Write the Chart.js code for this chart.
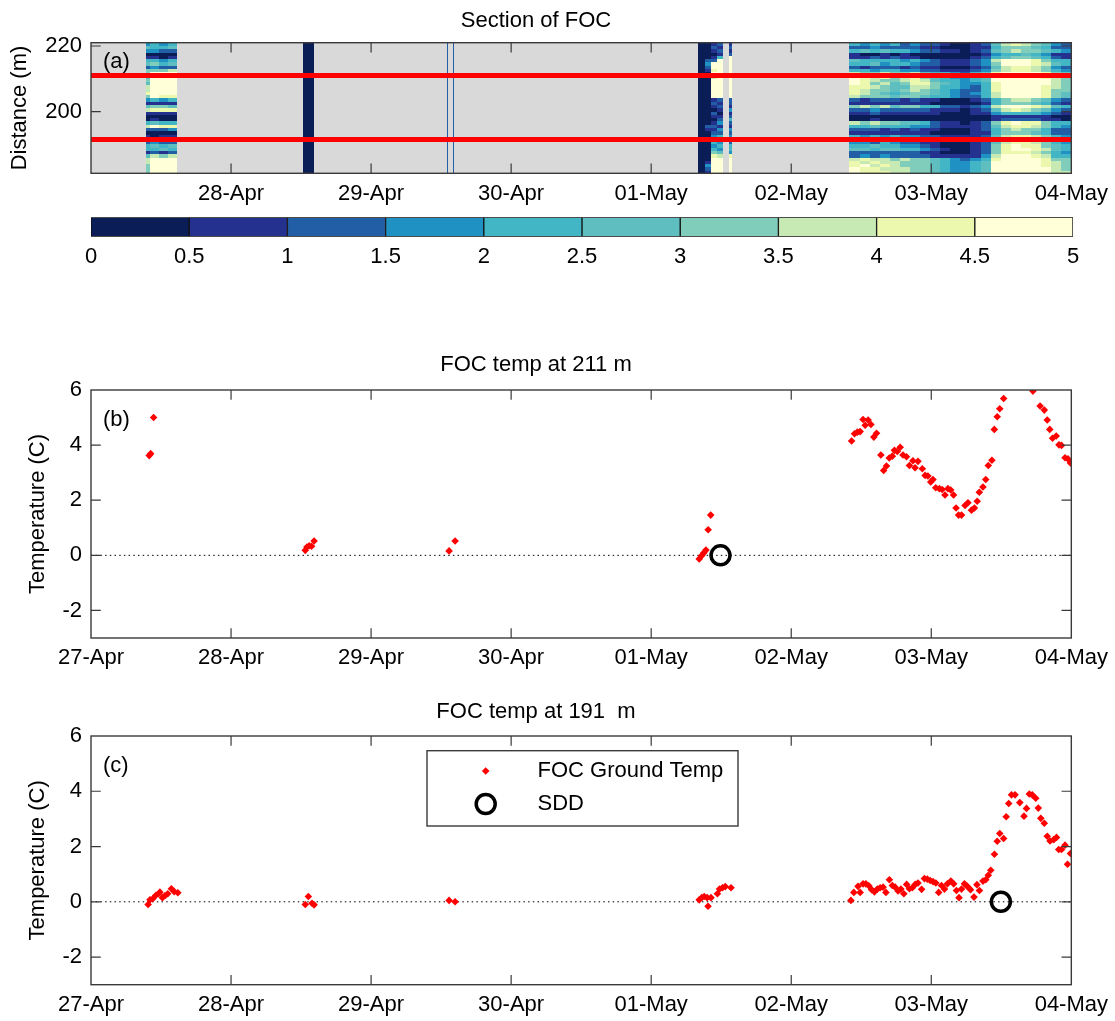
<!DOCTYPE html>
<html><head><meta charset="utf-8">
<script src="https://cdn.jsdelivr.net/npm/chart.js@4.4.1/dist/chart.umd.min.js"></script>
<style>
html,body{margin:0;padding:0;background:#fff;}
body{width:1115px;height:1021px;position:relative;overflow:hidden;}
canvas{position:absolute;left:0;}
</style></head><body>
<canvas id="cA" width="1115" height="212" style="top:0px"></canvas>
<canvas id="cCB" width="1115" height="108" style="top:212px"></canvas>
<canvas id="cB" width="1115" height="370" style="top:320px"></canvas>
<canvas id="cC" width="1115" height="331" style="top:690px"></canvas>
<script>
// ---------------- DATA ----------------
const dayLabels = ['27-Apr','28-Apr','29-Apr','30-Apr','01-May','02-May','03-May','04-May'];
const dayTicks = [0,1,2,3,4,5,6,7];
const dayTicksA = [1,2,3,4,5,6,7];
const distTicks = [200,220];
const tempTicks = [-2,0,2,4,6];
const colorEdges = [0,0.5,1,1.5,2,2.5,3,3.5,4,4.5,5];
const colorClasses = ['#0a1d56','#25318f','#225ea6','#1f91c2','#42b6c5','#5fbfc0','#80cdbc','#c7e9b4','#ecf8ae','#ffffd8'];
const redLineDist = [211, 191.5];

// distance rows (cell centres, 1 m tall), top to bottom
const distRows = [220.5,219.5,218.5,217.5,216.5,215.5,214.5,213.5,212.5,211.5,
  210.5,209.5,208.5,207.5,206.5,205.5,204.5,203.5,202.5,201.5,
  200.5,199.5,198.5,197.5,196.5,195.5,194.5,193.5,192.5,191.5,
  190.5,189.5,188.5,187.5,186.5,185.5,184.5,183.5,182.5,181.5];

// block A (27-Apr), column edges in days since 27-Apr 00:00, rows x columns
const blockAEdges = [0.395,0.42,0.485,0.55,0.614];
const blockARows = [
 [1.8,2.0,1.6,2.2],[2.6,2.4,2.2,2.6],[1.6,1.8,1.4,1.2],[0.2,0.3,0.2,0.4],[0.6,0.8,0.4,0.7],
 [2.0,2.4,1.8,2.2],[2.6,3.0,2.4,2.8],[1.4,1.6,1.2,1.4],[3.0,3.4,3.2,3.6],[3.2,4.6,4.6,4.8],
 [2.8,4.9,4.9,4.9],[3.4,4.9,4.9,4.9],[2.6,4.8,4.9,4.9],[3.6,4.9,4.9,4.8],[3.8,4.9,4.9,4.9],
 [4.2,4.9,4.8,4.9],[3.0,4.6,4.4,4.2],[1.8,2.2,1.6,2.0],[0.8,0.6,0.9,0.7],[2.6,3.4,3.0,2.8],
 [3.6,4.4,4.0,4.2],[0.6,0.8,0.5,0.9],[0.1,0.2,0.1,0.2],[0.3,0.6,0.4,0.3],[2.2,2.6,2.0,2.4],
 [3.8,4.6,4.2,4.4],[1.0,1.4,1.2,1.6],[0.2,0.4,0.3,0.2],[0.6,0.4,0.8,0.5],[1.6,1.8,1.4,1.6],
 [1.2,1.6,1.0,1.4],[2.2,2.6,2.4,2.8],[2.4,2.0,2.6,2.2],[0.8,1.0,0.7,1.2],[2.8,3.6,3.2,3.8],
 [3.6,4.9,4.8,4.9],[3.8,4.9,4.9,4.9],[3.4,4.9,4.9,4.9],[3.2,4.9,4.9,4.9],[3.0,4.9,4.9,4.9]
];
// block B (28-Apr), one column
const blockBEdges = [1.517,1.590];
const blockBCol = [0.1,0.1,0.1,0.1,0.1,0.1,0.1,0.1,0.1,0.1,0.1,0.1,0.1,0.1,0.1,0.1,0.1,0.1,0.1,0.1,
  0.1,0.1,0.1,0.1,0.1,0.1,0.1,0.1,0.1,0.1,0.1,0.1,0.1,0.1,0.1,0.1,0.1,0.1,0.1,0.1];
// block C (29-Apr), two thin columns
const blockC1Edges = [2.541,2.552];
const blockC2Edges = [2.583,2.594];
const blockCCol = [1.2,1.2,1.2,1.2,1.2,1.2,1.2,1.2,1.2,1.2,1.2,1.2,1.2,1.2,1.2,1.2,1.2,1.2,1.2,1.2,
  1.2,1.2,1.2,1.2,1.2,1.2,1.2,1.2,1.2,1.2,1.2,1.2,1.2,1.2,1.2,1.2,1.2,1.2,1.2,1.2];
// block D (01-May), columns
const blockDEdges = [4.334,4.382,4.429,4.470,4.510];
const blockD1 = [0.1,0.1,0.1,0.1,0.1,0.1,0.1,0.1,0.1,0.1,0.1,0.1,0.1,0.1,0.1,0.1,0.1,0.1,0.1,0.1,
  0.1,0.1,0.1,0.1,0.1,0.1,0.1,0.1,0.1,0.1,0.1,0.1,0.1,0.1,0.1,0.1,0.1,0.1,0.1,0.1];
const blockD2 = [0.2,0.2,0.3,0.1,0.2,1.2,1.8,1.4,0.8,0.2,0.2,0.1,0.1,0.1,0.1,0.1,0.1,0.3,0.2,0.1,
  0.1,0.1,0.1,0.1,0.4,1.0,0.6,0.1,0.1,0.1,0.2,0.1,0.1,0.2,0.1,0.3,0.8,1.6,1.2,0.9];
const blockD3 = [0.8,1.0,0.6,0.4,0.5,1.4,4.6,4.6,4.4,4.8,3.8,4.8,4.8,4.8,4.8,4.8,4.8,0.8,1.2,0.6,
  0.4,1.0,0.9,0.3,0.5,1.2,0.7,1.4,1.6,1.8,2.0,1.6,2.2,3.0,4.0,4.6,4.8,4.9,4.9,4.9];
const blockD4 = [1.2,0.8,1.0,0.6,2.4,4.6,4.8,4.9,4.9,4.9,4.9,4.9,4.9,4.9,4.9,4.9,4.9,1.0,0.6,1.4,
  0.8,0.3,0.6,1.2,1.8,0.9,1.6,1.2,2.0,1.4,1.8,2.2,1.6,2.6,3.6,4.6,4.9,4.9,4.9,4.9];
const blockD5Edges = [4.555,4.576];
const blockD5 = [0.6,1.0,0.8,1.2,4.9,4.9,4.9,4.9,4.9,4.9,4.9,4.9,4.9,4.9,4.9,4.9,4.9,1.4,1.0,0.8,
  1.6,0.6,1.2,2.0,1.4,0.9,1.8,1.2,1.6,2.2,1.4,2.0,2.4,1.8,4.4,4.9,4.9,4.9,4.9,4.9];
// block E (02-May to 04-May), rows x 22 columns
const blockEEdges = [5.416,5.488,5.560,5.632,5.704,5.776,5.848,5.920,5.992,6.064,6.136,6.208,
  6.280,6.352,6.424,6.496,6.568,6.640,6.712,6.784,6.856,6.928,7.0];
const blockERows = [
 [2.2,1.8,2.4,1.6,2.0,1.4,1.8,1.2,1.0,0.6,0.4,0.3,0.8,1.2,2.6,3.6,4.2,3.8,3.0,2.6,1.6,1.2],
 [1.4,1.2,1.6,1.1,1.3,1.0,1.2,0.8,0.6,0.3,0.2,0.3,0.5,0.9,2.2,3.0,3.4,3.2,2.8,2.4,1.4,1.0],
 [2.4,2.8,2.2,2.6,2.0,2.4,1.8,1.4,1.0,0.6,0.5,0.4,0.8,1.4,2.6,3.2,3.6,3.4,3.0,2.6,2.0,1.6],
 [0.6,0.3,0.4,0.8,0.3,0.5,0.2,0.4,0.3,0.2,0.1,0.2,0.4,0.7,1.6,2.2,2.4,2.6,2.2,1.8,0.8,0.6],
 [0.8,0.9,1.2,0.6,1.0,0.8,0.6,0.4,0.3,0.2,0.2,0.3,0.6,1.0,2.0,2.6,3.0,3.2,2.8,2.2,1.0,0.8],
 [2.6,2.2,2.4,2.0,2.2,1.8,2.0,1.6,1.2,0.9,0.7,0.8,1.2,1.8,3.6,4.6,4.8,4.6,4.2,3.4,2.4,2.0],
 [2.2,2.0,2.6,1.6,2.4,2.0,1.6,1.4,1.0,0.8,0.6,0.7,1.2,1.6,3.4,4.7,4.9,4.8,4.4,3.8,2.6,2.2],
 [1.2,0.9,1.4,1.0,1.2,0.8,1.0,0.7,0.6,0.4,0.3,0.4,0.8,1.2,2.6,3.6,4.2,4.0,3.6,3.0,1.6,1.4],
 [2.0,2.4,1.8,2.2,2.0,1.6,1.8,1.4,1.2,0.9,0.8,0.9,1.4,1.8,3.0,3.8,4.2,4.0,3.6,3.2,2.2,1.8],
 [3.8,3.4,3.0,3.6,3.0,3.2,3.6,2.8,2.4,2.0,1.6,1.4,2.0,2.6,4.4,4.8,4.9,4.8,4.6,4.0,3.2,2.8],
 [4.6,4.2,3.6,4.0,3.4,3.8,4.2,3.2,2.6,2.4,1.8,1.6,2.2,2.8,4.6,4.9,4.9,4.9,4.8,4.4,3.6,3.0],
 [4.8,4.4,3.8,3.4,3.0,3.6,4.4,3.8,2.8,2.4,2.0,1.6,2.0,2.6,4.6,4.9,4.9,4.9,4.9,4.6,3.8,3.2],
 [4.6,4.0,3.4,3.6,2.8,3.2,4.2,4.0,3.2,2.6,2.2,1.8,1.6,2.2,4.4,4.9,4.9,4.9,4.8,4.6,3.6,3.4],
 [4.4,4.2,3.6,3.2,2.6,2.8,3.8,3.8,3.0,2.4,2.0,1.6,1.4,2.2,4.2,4.8,4.9,4.9,4.9,4.4,3.8,3.2],
 [4.2,3.8,3.4,3.0,2.6,3.0,3.6,3.4,2.8,2.2,1.8,1.4,1.4,2.0,4.0,4.8,4.9,4.9,4.8,4.4,3.4,3.0],
 [4.0,3.6,3.2,2.8,2.4,2.8,3.4,3.2,2.6,2.2,1.8,1.4,1.6,2.2,3.8,4.7,4.9,4.9,4.8,4.2,3.2,2.8],
 [3.6,3.2,3.4,3.0,2.6,3.0,3.2,2.8,2.4,2.0,1.6,1.2,1.4,2.0,3.6,4.6,4.8,4.8,4.6,4.0,3.0,2.6],
 [1.2,0.9,1.4,1.0,1.2,0.8,1.0,0.8,0.6,0.4,0.3,0.3,0.6,1.0,2.4,3.4,3.8,3.6,3.2,2.6,1.6,1.2],
 [0.8,0.6,0.9,0.7,0.8,0.5,0.7,0.5,0.4,0.3,0.2,0.2,0.4,0.8,2.0,3.0,3.4,3.2,2.8,2.2,1.2,0.9],
 [3.4,3.8,3.0,3.6,2.8,3.2,3.0,2.4,2.0,1.4,1.0,0.8,1.2,1.8,3.8,4.6,4.8,4.6,4.2,3.6,2.8,2.4],
 [1.4,1.2,1.6,1.2,1.4,1.0,1.2,1.0,0.8,0.6,0.5,0.4,0.8,1.2,2.8,3.6,4.0,3.8,3.4,2.8,1.8,1.4],
 [0.9,0.7,1.0,0.8,0.9,0.7,0.8,0.6,0.5,0.4,0.3,0.3,0.5,0.8,1.6,2.2,2.4,2.2,2.0,1.6,1.0,0.8],
 [0.2,0.3,0.2,0.4,0.2,0.3,0.2,0.2,0.1,0.1,0.1,0.1,0.2,0.3,0.6,0.8,0.9,0.8,0.7,0.6,0.4,0.3],
 [0.4,0.3,0.5,0.3,0.4,0.3,0.3,0.2,0.2,0.1,0.1,0.1,0.2,0.4,0.9,1.2,1.4,1.2,1.0,0.8,0.5,0.4],
 [3.6,3.2,3.8,3.0,3.4,2.8,2.6,2.0,1.4,0.8,0.5,0.4,0.8,1.4,3.0,4.2,4.6,4.4,4.0,3.4,2.4,2.0],
 [2.4,2.2,2.8,2.0,2.4,2.0,1.8,1.6,1.2,0.8,0.6,0.5,0.9,1.4,2.8,3.8,4.2,4.0,3.6,3.0,2.2,1.8],
 [1.2,1.0,1.4,0.9,1.2,0.9,1.0,0.8,0.6,0.4,0.3,0.3,0.6,1.0,2.2,3.2,3.6,3.4,3.0,2.4,1.4,1.2],
 [0.8,0.6,0.9,0.7,0.8,0.6,0.7,0.5,0.4,0.3,0.2,0.3,0.5,0.9,2.0,3.0,3.4,3.2,2.8,2.2,1.2,1.0],
 [2.0,1.6,2.2,1.8,2.0,1.6,1.6,1.2,1.0,0.7,0.5,0.5,0.9,1.4,2.8,3.8,4.2,4.0,3.6,3.0,2.0,1.6],
 [1.8,1.4,2.0,1.6,1.8,1.4,1.4,1.0,0.8,0.5,0.4,0.4,0.8,1.2,2.6,3.6,4.0,3.8,3.4,2.8,1.8,1.4],
 [1.6,1.8,1.4,2.0,1.6,1.2,1.2,0.9,0.6,0.3,0.2,0.2,0.5,1.0,2.8,3.8,4.2,4.0,3.6,3.0,2.2,1.8],
 [2.4,2.0,2.6,2.2,2.4,1.8,1.6,1.2,0.8,0.4,0.3,0.3,0.6,1.2,3.2,4.2,4.6,4.4,4.0,3.4,2.6,2.2],
 [2.6,2.8,2.4,2.8,2.6,2.2,2.0,1.6,1.0,0.6,0.4,0.4,0.8,1.4,3.4,4.4,4.8,4.6,4.2,3.6,2.8,2.4],
 [1.2,1.0,1.4,1.0,1.2,1.0,1.0,0.8,0.6,0.4,0.3,0.3,0.6,1.2,3.0,4.0,4.4,4.2,3.8,3.2,2.0,1.6],
 [1.4,1.6,1.2,1.8,1.4,1.2,1.2,1.0,0.8,0.6,0.5,0.5,0.9,1.6,3.6,4.6,4.8,4.6,4.2,3.6,2.4,2.0],
 [3.8,4.2,3.6,3.8,3.4,3.6,3.2,3.0,2.6,2.0,1.6,1.4,1.8,2.4,4.4,4.9,4.9,4.9,4.8,4.2,3.4,3.0],
 [4.2,3.8,4.4,3.6,3.8,3.4,3.4,3.2,2.8,2.2,1.8,1.6,2.0,2.6,4.6,4.9,4.9,4.9,4.8,4.4,3.6,3.2],
 [4.4,4.6,3.8,4.2,3.6,3.4,3.2,3.0,2.6,2.0,1.6,1.6,2.0,2.6,4.6,4.9,4.9,4.9,4.8,4.4,3.6,3.4],
 [4.6,4.2,4.4,3.8,3.6,3.8,3.4,3.2,2.8,2.2,1.8,1.6,2.0,2.8,4.7,4.9,4.9,4.9,4.8,4.6,3.8,3.4],
 [4.8,4.4,4.0,4.2,3.8,3.6,3.4,3.0,2.6,2.2,1.8,1.6,2.0,2.8,4.8,4.9,4.9,4.9,4.9,4.6,3.8,3.6]
];

// FOC temperature at 211 m (days since 27-Apr 00:00, deg C)
const foc211Time = [0.416,0.426,0.447,1.530,1.542,1.558,1.575,1.593,2.557,2.600,4.343,4.361,4.376,4.391,4.407,4.425,
 5.431,5.452,5.472,5.492,5.513,5.528,5.549,5.569,5.590,5.609,5.640,5.660,5.680,5.700,5.722,5.737,5.757,5.778,5.798,5.823,
 5.844,5.869,5.884,5.905,5.936,5.956,5.976,5.996,6.012,6.032,6.058,6.078,6.098,6.119,6.139,6.159,6.177,6.195,6.216,6.241,
 6.262,6.287,6.308,6.328,6.343,6.369,6.389,6.407,6.433,6.450,6.471,6.489,6.517,6.726,6.777,6.807,6.828,6.846,6.866,6.892,
 6.912,6.930,6.955,6.976,6.994];
const foc211Temp = [3.62,3.69,5.00,0.18,0.30,0.35,0.33,0.52,0.16,0.52,-0.13,-0.01,0.09,0.19,0.93,1.46,
 4.15,4.41,4.47,4.49,4.93,4.72,4.91,4.75,4.29,4.43,3.64,3.08,3.24,3.53,3.60,3.81,3.77,3.92,3.64,3.58,
 3.26,3.43,3.18,3.41,3.14,2.90,2.88,2.66,2.75,2.45,2.42,2.39,2.19,2.42,2.37,2.19,1.72,1.46,1.46,1.81,
 1.91,1.64,1.72,1.96,2.29,2.48,2.75,3.26,3.45,4.57,5.03,5.32,5.69,5.96,5.42,5.27,4.91,4.57,4.25,4.33,
 4.01,3.99,3.54,3.50,3.35];
const sdd211Time = [4.495];
const sdd211Temp = [0];

// FOC temperature at 191 m
const foc191Time = [0.408,0.421,0.441,0.462,0.482,0.492,0.510,0.528,0.548,0.574,0.594,0.620,
 1.530,1.552,1.578,1.593,2.557,2.600,4.343,4.361,4.379,4.400,4.406,4.427,4.473,4.488,4.509,4.529,4.570,
 5.426,5.447,5.477,5.492,5.513,5.533,5.554,5.574,5.594,5.615,5.635,5.656,5.676,5.701,5.722,5.742,5.763,
 5.783,5.804,5.824,5.844,5.865,5.885,5.905,5.931,5.951,5.972,5.992,6.013,6.033,6.053,6.073,6.094,6.115,
 6.140,6.160,6.180,6.198,6.216,6.237,6.257,6.280,6.305,6.326,6.344,6.369,6.389,6.407,6.425,6.451,6.471,
 6.489,6.517,6.535,6.553,6.573,6.598,6.632,6.662,6.680,6.700,6.721,6.746,6.764,6.782,6.807,6.828,6.848,
 6.874,6.894,6.910,6.930,6.955,6.973,6.994];
const foc191Temp = [-0.10,0.07,0.11,0.23,0.29,0.35,0.15,0.22,0.29,0.47,0.37,0.33,
 -0.10,0.19,-0.05,-0.11,0.05,0.00,0.07,0.15,0.19,0.15,-0.16,0.15,0.29,0.46,0.51,0.55,0.51,
 0.05,0.34,0.56,0.34,0.65,0.65,0.58,0.44,0.36,0.46,0.51,0.53,0.34,0.80,0.59,0.53,0.39,
 0.46,0.29,0.63,0.47,0.51,0.63,0.68,0.45,0.84,0.82,0.77,0.73,0.68,0.34,0.59,0.46,0.65,
 0.75,0.65,0.41,0.15,0.46,0.65,0.56,0.44,0.17,0.62,0.41,0.75,0.80,0.96,1.14,1.72,2.19,
 2.47,2.29,3.08,3.56,3.87,3.87,3.59,3.10,3.38,3.90,3.87,3.75,3.39,3.02,2.84,2.37,2.20,
 2.25,2.33,1.89,1.89,2.05,1.36,1.75];
const sdd191Time = [6.497];
const sdd191Temp = [0];

// ---------------- RENDERING ----------------
const FONT = "'Liberation Sans', Arial, Helvetica, sans-serif";
Chart.defaults.font.family = FONT;
Chart.defaults.color = '#000';
const F22 = {size: 22, family: FONT, weight: 'normal', lineHeight: 1.2};
const AXIS_COLOR = '#3a3a3a';
const GRAY = '#d9d9d9';

const heatBlocks = [
  {edges: blockAEdges, rows: blockARows},
  {edges: blockBEdges, cols: [blockBCol]},
  {edges: blockC1Edges, cols: [blockCCol]},
  {edges: blockC2Edges, cols: [blockCCol]},
  {edges: blockDEdges, cols: [blockD1, blockD2, blockD3, blockD4]},
  {edges: blockD5Edges, cols: [blockD5]},
  {edges: blockEEdges, rows: blockERows}
];

function colorFor(v) {
  let i = 0;
  while (i < colorClasses.length - 1 && v >= colorEdges[i + 1]) i++;
  return colorClasses[i];
}

const heatPlugin = {
  id: 'heat',
  beforeDatasetsDraw(chart) {
    const {ctx, chartArea: a, scales: {x, y}} = chart;
    ctx.save();
    ctx.fillStyle = GRAY;
    ctx.fillRect(a.left, a.top, a.width, a.height);
    ctx.beginPath(); ctx.rect(a.left, a.top, a.width, a.height); ctx.clip();
    heatBlocks.forEach(b => {
      const nc = b.edges.length - 1;
      for (let c = 0; c < nc; c++) {
        const x0 = Math.round(x.getPixelForValue(b.edges[c]));
        const x1 = Math.max(x0 + 1, Math.round(x.getPixelForValue(b.edges[c + 1])));
        for (let r = 0; r < distRows.length; r++) {
          const v = b.rows ? b.rows[r][c] : b.cols[c][r];
          if (v === null || v === undefined) continue;
          const y0 = Math.round(y.getPixelForValue(distRows[r] + 0.5));
          const y1 = Math.round(y.getPixelForValue(distRows[r] - 0.5));
          ctx.fillStyle = colorFor(v);
          ctx.fillRect(x0, y0, x1 - x0, y1 - y0);
        }
      }
    });
    ctx.restore();
  }
};

const matlabAxes = {
  id: 'matlabAxes',
  afterDatasetsDraw(chart) {
    const {ctx, chartArea: a, scales: {x, y}} = chart;
    const L = 9.8;
    ctx.save();
    ctx.strokeStyle = AXIS_COLOR;
    ctx.lineWidth = 1.2;
    ctx.beginPath();
    x.ticks.forEach(t => {
      const px = x.getPixelForValue(t.value);
      if (px <= a.left + 1 || px >= a.right - 1) return;
      ctx.moveTo(px, a.bottom); ctx.lineTo(px, a.bottom - L);
      ctx.moveTo(px, a.top); ctx.lineTo(px, a.top + L);
    });
    y.ticks.forEach(t => {
      const py = y.getPixelForValue(t.value);
      if (py <= a.top + 1 || py >= a.bottom - 1) return;
      ctx.moveTo(a.left, py); ctx.lineTo(a.left + L, py);
      ctx.moveTo(a.right, py); ctx.lineTo(a.right - L, py);
    });
    ctx.stroke();
    ctx.lineWidth = 1.4;
    ctx.strokeRect(a.left, a.top, a.width, a.height);
    ctx.restore();
  }
};

const panelLabel = {
  id: 'panelLabel',
  afterDraw(chart, args, opts) {
    if (!opts || !opts.text) return;
    const {ctx, chartArea: a} = chart;
    ctx.save();
    ctx.fillStyle = '#000';
    ctx.font = '22px ' + FONT;
    ctx.textBaseline = 'middle';
    ctx.textAlign = 'left';
    ctx.fillText(opts.text, a.left + 12, a.top + opts.dy);
    ctx.restore();
  }
};

const legendBox = {
  id: 'legendBox',
  afterDraw(chart, args, opts) {
    if (!opts || !opts.show) return;
    const {ctx, chartArea: a} = chart;
    const bx = a.left + 336, by = a.top + 14.7, bw = 311, bh = 75.3;
    ctx.save();
    ctx.fillStyle = '#fff';
    ctx.fillRect(bx, by, bw, bh);
    ctx.strokeStyle = AXIS_COLOR; ctx.lineWidth = 1.4;
    ctx.strokeRect(bx, by, bw, bh);
    const items = chart.data.datasets.filter(d => d.inLegend);
    items.forEach((d, i) => {
      const my = by + 20.3 + i * 33;
      const mx = bx + 58.7;
      ctx.beginPath();
      if (d.pointStyle === 'rectRot') {
        const r = d.pointRadius;
        ctx.moveTo(mx, my - r); ctx.lineTo(mx + r, my); ctx.lineTo(mx, my + r); ctx.lineTo(mx - r, my); ctx.closePath();
        ctx.fillStyle = d.backgroundColor; ctx.fill();
      } else {
        ctx.arc(mx, my, d.pointRadius, 0, Math.PI * 2);
        ctx.strokeStyle = d.borderColor; ctx.lineWidth = d.borderWidth; ctx.stroke();
      }
      ctx.fillStyle = '#000';
      ctx.font = '22px ' + FONT;
      ctx.textBaseline = 'middle';
      ctx.textAlign = 'left';
      ctx.fillText(d.label, bx + 110.5, my);
    });
    ctx.restore();
  }
};

function xScale(ticksArr, height) {
  return {
    type: 'linear', min: 0, max: 7,
    afterBuildTicks: s => { s.ticks = ticksArr.map(v => ({value: v})); },
    afterFit: s => { s.height = height; },
    ticks: {font: F22, color: '#000', padding: 7, maxRotation: 0, autoSkip: false,
      callback: v => dayLabels[Math.round(v)]},
    grid: {display: false, drawTicks: false},
    border: {display: false}
  };
}
function yScale(min, max, ticksArr, title, titlePad) {
  return {
    type: 'linear', min: min, max: max,
    afterBuildTicks: s => { s.ticks = ticksArr.map(v => ({value: v})); },
    afterFit: s => { s.width = 91; },
    ticks: {font: F22, color: '#000', padding: 9, callback: v => String(v)},
    grid: {display: false, drawTicks: false},
    border: {display: false},
    title: {display: true, text: title, font: F22, color: '#000', padding: {top: titlePad, bottom: 0}}
  };
}
function titleOpt(text, top, bottom) {
  return {display: true, text: text, color: '#000', font: F22, padding: {top: top, bottom: bottom}};
}

// Panel (a)
new Chart(document.getElementById('cA'), {
  type: 'scatter',
  data: {datasets: redLineDist.map(d => ({
    data: [{x: 0, y: d}, {x: 7, y: d}], showLine: true, borderColor: '#ff0000',
    borderWidth: 5, pointRadius: 0, clip: 0
  }))},
  options: {
    responsive: false, animation: false, devicePixelRatio: 1, events: [],
    layout: {padding: {left: 0, right: 43, top: 0, bottom: 0}},
    scales: {x: xScale(dayTicksA, 212 - 173.3), y: yScale(181.2, 221, distTicks, 'Distance (m)', 6.4)},
    plugins: {legend: {display: false}, tooltip: {enabled: false},
      title: titleOpt('Section of FOC', 7.3, 9.0), panelLabel: {text: '(a)', dy: 19}}
  },
  plugins: [heatPlugin, matlabAxes, panelLabel]
});

// Colorbar
new Chart(document.getElementById('cCB'), {
  type: 'bar',
  data: {labels: ['cb'], datasets: colorClasses.map((c, i) => ({
    data: [[colorEdges[i], colorEdges[i + 1]]], backgroundColor: c, borderColor: '#111',
    borderWidth: 1, borderSkipped: false, barPercentage: 1, categoryPercentage: 1, grouped: false
  }))},
  options: {
    indexAxis: 'y', responsive: false, animation: false, devicePixelRatio: 1, events: [],
    layout: {padding: {left: 91, right: 42, top: 5.3, bottom: 0}},
    scales: {
      x: {type: 'linear', min: 0, max: 5,
        afterBuildTicks: s => { s.ticks = colorEdges.map(v => ({value: v})); },
        afterFit: s => { s.height = 108 - 24.7; },
        ticks: {font: F22, color: '#000', padding: 6.8, maxRotation: 0, autoSkip: false, callback: v => String(v)},
        grid: {display: false, drawTicks: false}, border: {display: false}},
      y: {display: false}
    },
    plugins: {legend: {display: false}, tooltip: {enabled: false}}
  }
});

function tempChart(id, title, tPadTop, tPadBot, xH, times, temps, sT, sV, label, showLegend) {
  return new Chart(document.getElementById(id), {
    type: 'scatter',
    data: {datasets: [
      {label: 'zero', data: [{x: 0, y: 0}, {x: 7, y: 0}], showLine: true, borderColor: '#000',
        borderWidth: 1, borderDash: [1.5, 3.2], pointRadius: 0, order: 3},
      {label: 'FOC Ground Temp', inLegend: true, data: times.map((t, i) => ({x: t, y: temps[i]})),
        pointStyle: 'rectRot', pointRadius: 3.8, backgroundColor: '#ff0000', borderColor: '#ff0000',
        borderWidth: 0, order: 2},
      {label: 'SDD', inLegend: true, data: sT.map((t, i) => ({x: t, y: sV[i]})),
        pointStyle: 'circle', pointRadius: 9.5, borderWidth: 3.5, borderColor: '#000',
        backgroundColor: 'rgba(0,0,0,0)', order: 1}
    ]},
    options: {
      responsive: false, animation: false, devicePixelRatio: 1, events: [],
      layout: {padding: {left: 0, right: 43, top: 0, bottom: 0}},
      scales: {x: xScale(dayTicks, xH), y: yScale(-3, 6, tempTicks, 'Temperature (C)', 24.3)},
      plugins: {legend: {display: false}, tooltip: {enabled: false},
        title: titleOpt(title, tPadTop, tPadBot), panelLabel: {text: label, dy: 29.5},
        legendBox: {show: showLegend}}
    },
    plugins: [matlabAxes, panelLabel, legendBox]
  });
}
tempChart('cB', 'FOC temp at 211 m', 31.8, 11.8, 370 - 318, foc211Time, foc211Temp, sdd211Time, sdd211Temp, '(b)', false);
tempChart('cC', 'FOC temp at 191  m', 8.5, 11.1, 331 - 294.7, foc191Time, foc191Temp, sdd191Time, sdd191Temp, '(c)', true);
</script>
</body></html>
